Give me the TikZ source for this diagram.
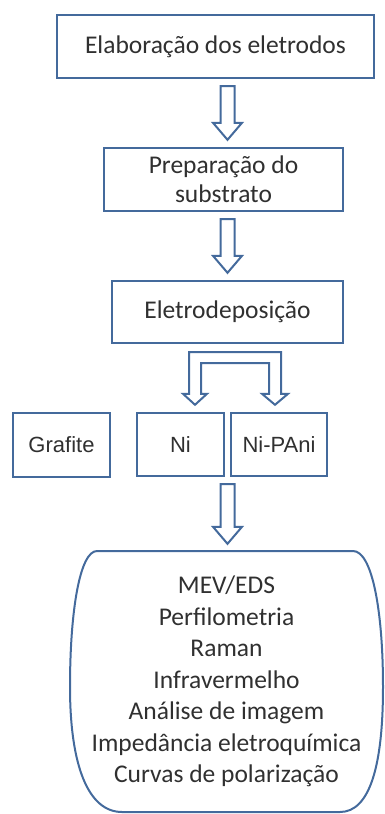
\documentclass[tikz,border=0pt]{standalone}
\usepackage{fontspec}
\setmainfont{Carlito}
\newfontfamily\arialfont{Liberation Sans}
\usetikzlibrary{calc}
\definecolor{boxblue}{RGB}{68,106,156}
\definecolor{textgray}{RGB}{48,48,48}
\tikzset{
  etapa/.style={draw=boxblue, line width=2.4pt, text=textgray, inner sep=0pt, align=center, font=\fontsize{25.5}{29}\selectfont},
  amostra/.style={etapa, font=\arialfont\fontsize{22}{25}\selectfont},
  seta/.style={draw=boxblue, line width=2pt, fill=white, line join=miter},
}
\def\eixo{227.5pt}
\def\setabaixo(#1)(#2){\draw[seta] let \p1=(#1), \p2=(#2) in (\eixo-7pt,\y1-7pt) -- (\eixo-7pt,\y2+24pt) -- (\eixo-14.5pt,\y2+24pt) -- (\eixo,\y2+7pt) -- (\eixo+14.5pt,\y2+24pt) -- (\eixo+7pt,\y2+24pt) -- (\eixo+7pt,\y1-7pt) -- cycle;}

\begin{document}
\begin{tikzpicture}[x=1pt, y=-1pt]
			%%%%% START %%%%%
			\useasboundingbox (0,0) rectangle (384,814);
			
			\node[etapa, minimum width=317pt, minimum height=63pt] (elab) at (215.5,46.5) {Elaboração dos eletrodos};
			\node[etapa, minimum width=239pt, minimum height=63pt] (prep) at (223.5,179.5) {Preparação do\\substrato};
			\node[etapa, minimum width=231pt, minimum height=62pt] (eletro) at (227.5,312) {Eletrodeposição};
			
			\node[amostra, minimum width=97pt, minimum height=64pt] (grafite) at (61.5,445) {Grafite};
			\node[amostra, minimum width=87pt, minimum height=63pt] (ni) at (180.5,444.5) {Ni};
			\node[amostra, minimum width=96pt, minimum height=63pt] (nipani) at (279,444.5) {Ni-PAni};
			
			\setabaixo(elab.south)(prep.north)
			\setabaixo(prep.south)(eletro.north)
			
			% seta dividida
			\draw[seta] let \p1=(eletro.south), \p2=(ni.north) in
				(195pt,\y2+7pt) -- (207pt,\y2+18pt) -- (201pt,\y2+18pt) -- (201pt,\y1-19pt)
				-- (269pt,\y1-19pt) -- (269pt,\y2+18pt) -- (262pt,\y2+18pt) -- (275pt,\y2+7pt)
				-- (288pt,\y2+18pt) -- (281pt,\y2+18pt) -- (281pt,\y1-8pt) -- (189pt,\y1-8pt)
				-- (189pt,\y2+18pt) -- (183pt,\y2+18pt) -- cycle;
			
			% ensaios
			\node[text=textgray, inner sep=0pt, align=center, minimum width=313pt, minimum height=261pt,
				font=\fontsize{25.5}{31.5}\selectfont] (ensaios) at (226.5,681.5)
				{MEV/EDS\\Perfilometria\\Raman\\Infravermelho\\Análise de imagem\\Impedância eletroquímica\\Curvas de polarização};
			\draw[boxblue, line width=2pt] (97,551) .. controls (80,551) and (70,610) .. (70,687)
				.. controls (70,765) and (88,812) .. (122,812) -- (340,812)
				.. controls (370,812) and (383,765) .. (383,687)
				.. controls (383,610) and (372,551) .. (353,551) -- cycle;
			
			\setabaixo(ni.south)(ensaios.north)
			
			%%%%% END %%%%%
\end{tikzpicture}
\end{document}
